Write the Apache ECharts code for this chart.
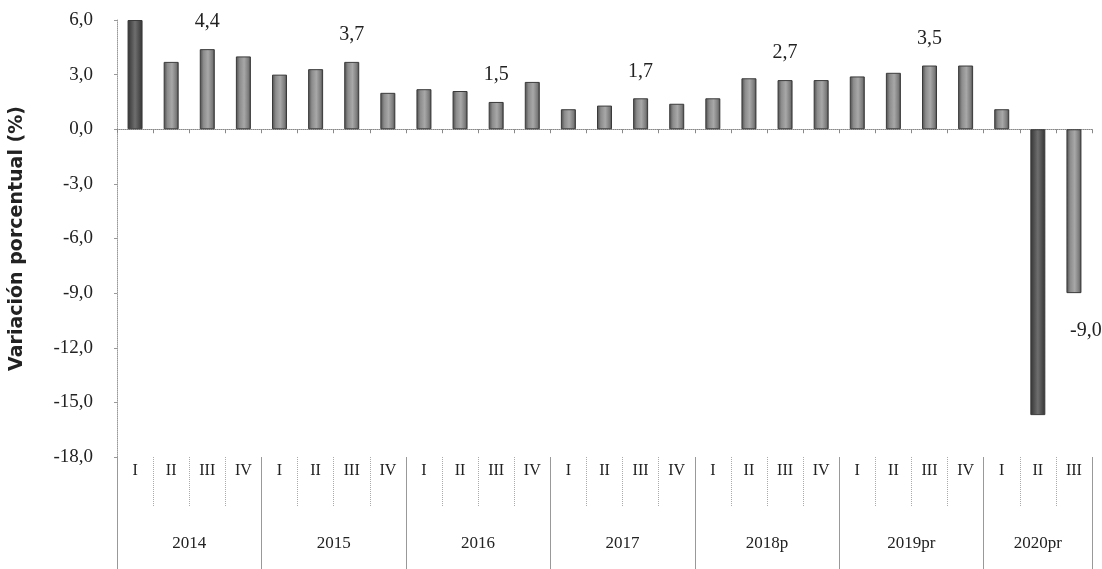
<!DOCTYPE html>
<html>
<head>
<meta charset="utf-8">
<script src="https://cdn.jsdelivr.net/npm/echarts@6/dist/echarts.min.js"></script>
<style>html,body{margin:0;padding:0;background:#fff;}#c{width:1102px;height:569px;}</style>
</head>
<body>
<div id="c"></div>
<script>
const quarters = ['I','II','III','IV','I','II','III','IV','I','II','III','IV','I','II','III','IV','I','II','III','IV','I','II','III','IV','I','II','III'];
const years = ['2014','2015','2016','2017','2018p','2019pr','2020pr'];
const yearQuarterCounts = [4,4,4,4,4,4,3];
const values = [6.0,3.7,4.4,4.0, 3.0,3.3,3.7,2.0, 2.2,2.1,1.5,2.6, 1.1,1.3,1.7,1.4, 1.7,2.8,2.7,2.7, 2.9,3.1,3.5,3.5, 1.1,-15.7,-9.0];
const labeledIdx = [2,6,10,14,18,22,26];
const yTicks = [-18,-15,-12,-9,-6,-3,0,3,6];

const cats = quarters.map((q,i)=>'c'+i);
// half-step points for year axis (boundaries at even indices)
const halfPts = [];
for (let k=0;k<=quarters.length*2;k++) halfPts.push('h'+k);
const yearBoundaries = new Set([0]);
const yearLabelAt = {};
let acc = 0;
years.forEach((y,i)=>{
  yearLabelAt[acc*2 + yearQuarterCounts[i]] = y;
  acc += yearQuarterCounts[i];
  yearBoundaries.add(acc*2);
});

const fmt = v => v.toFixed(1).replace('.', ',');
const serif = 'Liberation Serif';

const barColor = {
  type:'linear', x:0, y:0, x2:1, y2:0,
  colorStops:[{offset:0,color:'#4a4a4a'},{offset:0.25,color:'#8c8c8c'},{offset:0.55,color:'#a8a8a8'},{offset:0.85,color:'#7a7a7a'},{offset:1,color:'#3e3e3e'}]
};

const data = values.map((v,i)=>{
  const d = {value:v};
  if (labeledIdx.includes(i)) {
    if (v < 0) {
      d.label = {show:true, position:'bottom', distance:28, offset:[12,0], formatter:p=>fmt(p.value), fontFamily:serif, fontSize:20, color:'#222'};
    } else {
      d.label = {show:true, position:'top', distance:17, formatter:p=>fmt(p.value), fontFamily:serif, fontSize:20, color:'#222'};
    }
  }
  if (i===0 || i===25) d.itemStyle = {color:{type:'linear',x:0,y:0,x2:1,y2:0,colorStops:[{offset:0,color:'#333'},{offset:0.5,color:'#6e6e6e'},{offset:1,color:'#333'}]}};
  return d;
});

const chart = echarts.init(document.getElementById('c'));
chart.setOption({
  animation:false,
  backgroundColor:'#fff',
  grid:{left:111, right:10, top:20, bottom:112, containLabel:false},
  yAxis:{
    type:'value', min:-18, max:6, interval:3,
    name:'Variación porcentual (%)', nameLocation:'middle', nameGap:90,
    nameTextStyle:{fontFamily:'DejaVu Sans', fontWeight:'bold', fontSize:19, color:'#222'},
    axisLine:{show:true, lineStyle:{color:'#999', type:'dotted', width:1}},
    axisTick:{show:true, length:3, lineStyle:{color:'#999'}},
    splitLine:{show:false},
    axisLabel:{formatter:v=>fmt(v), fontFamily:serif, fontSize:19, color:'#222', margin:24}
  },
  xAxis:[
    {
      type:'category', data:cats, position:'bottom',
      axisLine:{show:true, onZero:true, lineStyle:{color:'#888', type:'dotted', width:1}},
      axisTick:{show:true, length:4, interval:0, lineStyle:{color:'#888'}},
      axisLabel:{show:false}
    },
    {
      type:'category', data:quarters, position:'bottom', offset:0,
      axisLine:{show:false},
      axisTick:{show:true, interval:0, length:50, lineStyle:{color:'#aaa', type:'dotted', width:1}},
      axisLabel:{show:true, interval:0, fontFamily:serif, fontSize:16, color:'#222', margin:6}
    },
    {
      type:'category', data:halfPts, position:'bottom', offset:0, boundaryGap:false,
      axisLine:{show:false},
      axisTick:{show:true, length:112, interval:(i)=>yearBoundaries.has(i), lineStyle:{color:'#999', width:1}},
      axisLabel:{show:true, interval:(i)=>yearLabelAt[i]!==undefined, formatter:(v,i)=>yearLabelAt[i]||'', fontFamily:serif, fontSize:17, color:'#222', margin:78}
    }
  ],
  series:[{
    type:'bar', xAxisIndex:0, data:data, barWidth:15,
    itemStyle:{color:barColor, borderColor:'#3a3a3a', borderWidth:1}
  }]
});
</script>
</body>
</html>
